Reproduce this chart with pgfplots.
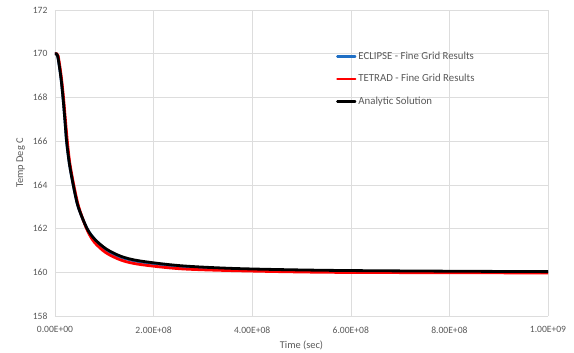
\documentclass[border=0pt]{standalone}
\usepackage{fontspec}
\setmainfont{Carlito}
\usepackage{pgfplots}
\pgfplotsset{compat=1.18}
\definecolor{txtgray}{HTML}{595959}
\definecolor{gridgray}{HTML}{DDDDDD}
\definecolor{eclblue}{HTML}{1F6FC5}
\definecolor{tetred}{HTML}{FF0000}
\begin{document}
\begin{tikzpicture}
\useasboundingbox (-55pt,-37pt) rectangle (519pt,316pt);
\begin{axis}[
  at={(0pt,0pt)}, anchor=south west,
  scale only axis, width=493pt, height=306pt,
  xmin=0, xmax=1e9, ymin=158, ymax=172,
  xtick={0,2e8,4e8,6e8,8e8,1e9},
  xticklabels={0.00E+00,2.00E+08,4.00E+08,6.00E+08,8.00E+08,1.00E+09},
  ytick={158,160,...,172},
  scaled x ticks=false,
  /pgf/number format/assume math mode=true,
  tick label style={font=\fontsize{9.6}{11}\selectfont, text=txtgray},
  xticklabel style={yshift=-7pt},
  yticklabel style={xshift=-4pt},
  major tick length=0pt,
  axis line style={draw=none},
  grid=major,
  major grid style={gridgray, line width=0.5pt},
  xlabel={Time (sec)}, ylabel={Temp Deg C},
  label style={font=\fontsize{10.4}{12}\selectfont, text=txtgray},
  xlabel style={yshift=-1pt},
  ylabel style={yshift=1pt},
  legend style={draw=none, fill=none, at={(0.57,0.87)}, anchor=north west,
    font=\fontsize{10.8}{12}\selectfont, text=txtgray, row sep=9.5pt,
    inner sep=0pt},
  legend cell align=left,
  legend image code/.code={\draw[#1, line width=2.2pt] (0pt,0pt) -- (18pt,0pt);},
  every axis plot/.append style={line width=2.8pt, line join=round, line cap=round},
]
\addplot[eclblue, smooth] coordinates {
(0,170) (2.7e6,170) (5.4e6,169.9) (9e6,169.4) (1.26e7,168.8) (1.62e7,168) (2e7,167)
(2.35e7,166) (2.9e7,165) (3.7e7,164) (4.7e7,163) (6.5e7,162) (8.1e7,161.5)
(1.05e8,161.0) (1.35e8,160.68) (1.72e8,160.48) (2.55e8,160.26) (3.7e8,160.12)
(5.5e8,160.05) (8e8,160.03) (1e9,160.02)
};
\addlegendentry{ECLIPSE - Fine Grid Results}
\addplot[tetred, smooth] coordinates {
(0,170) (3.6e6,170) (6.3e6,169.9) (1e7,169.4) (1.35e7,168.8) (1.72e7,168) (2.1e7,167)
(2.5e7,166) (3e7,165) (3.8e7,164) (4.8e7,163) (6.4e7,162) (7.9e7,161.4)
(1.03e8,160.9) (1.35e8,160.55) (1.72e8,160.36) (2.55e8,160.16) (3.7e8,160.07)
(5.5e8,160.0) (8e8,159.98) (1e9,159.97)
};
\addlegendentry{TETRAD - Fine Grid Results}
\addplot[black, smooth] coordinates {
(0,170) (2.7e6,170) (5.4e6,169.9) (9e6,169.4) (1.26e7,168.8) (1.62e7,168) (2e7,167)
(2.35e7,166) (2.9e7,165) (3.7e7,164) (4.7e7,163) (6.5e7,162) (8.1e7,161.5)
(1.05e8,161.05) (1.35e8,160.72) (1.72e8,160.52) (2.55e8,160.3) (3.7e8,160.17)
(5.5e8,160.09) (8e8,160.05) (1e9,160.03)
};
\addlegendentry{Analytic Solution}
\end{axis}
\end{tikzpicture}
\end{document}
